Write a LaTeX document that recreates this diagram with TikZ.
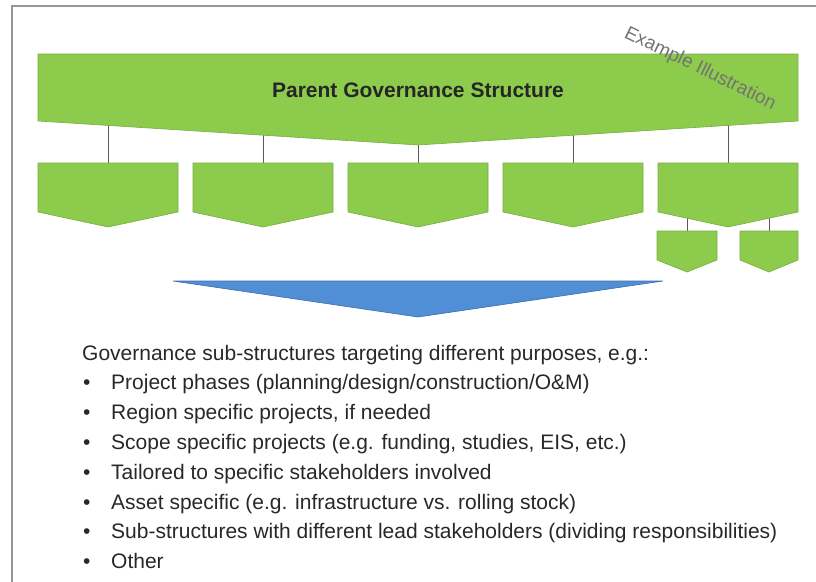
\documentclass[tikz,border=0pt]{standalone}
\usepackage{fontspec}
\setmainfont{Liberation Sans}
\usepackage{tikz}
\usetikzlibrary{calc}
\definecolor{cGov}{RGB}{141,203,76}
\definecolor{cGovEdge}{RGB}{120,172,66}
\definecolor{cFunnel}{RGB}{80,142,214}
\definecolor{cFunnelEdge}{RGB}{62,108,168}
\definecolor{cLink}{RGB}{90,90,90}
\definecolor{cFrame}{RGB}{150,150,150}
\definecolor{cStamp}{RGB}{115,115,115}
\definecolor{cText}{RGB}{40,40,40}

\begin{document}
\begin{tikzpicture}[x=1pt, y=-1pt,
    govshape/.style={fill=cGov, draw=cGovEdge, line width=0.6pt},
    govlink/.style={draw=cLink, line width=1pt},
    listtext/.style={anchor=base west, inner sep=0pt, text=cText, font=\fontsize{21}{24}\selectfont}]

  \useasboundingbox (0,0) rectangle (816,581);
  \clip (0,0) rectangle (816,581);

  % ---- outer frame (right and bottom edges fall off the page) ----
  \draw[cFrame, line width=1.5pt] (12,6) rectangle (830,595);

  % ---- anchor points of the boxes ----
  \coordinate (parent-c) at (418,95);
  \coordinate (c1-n) at (108,163);
  \coordinate (c2-n) at (263,163);
  \coordinate (c3-n) at (418,163);
  \coordinate (c4-n) at (573,163);
  \coordinate (c5-n) at (728,163);
  \coordinate (c5-c) at (728,195);
  \coordinate (s1-n) at (687,231);
  \coordinate (s2-n) at (769,231);

  % ---- connectors (drawn first, boxes cover their ends) ----
  \foreach \k in {1,...,5}{
    \draw[govlink] (c\k-n) -- (c\k-n |- parent-c);
  }
  \draw[govlink] (s1-n) -- (s1-n |- c5-c);
  \draw[govlink] (s2-n) -- (s2-n |- c5-c);

  % ---- parent block ----
  \filldraw[govshape] (38,54) -- (798,54) -- (798,121) -- (418,145) -- (38,121) -- cycle;
  \node[font=\fontsize{21}{24}\selectfont\bfseries, text=black!85] (parent) at (418,90)
    {Parent Governance Structure};

  % ---- first level sub-structures ----
  \filldraw[govshape] (38,163) -- (178,163) -- (178,212) -- (108,227) -- (38,212) -- cycle;
  \filldraw[govshape] (193,163) -- (333,163) -- (333,212) -- (263,227) -- (193,212) -- cycle;
  \filldraw[govshape] (348,163) -- (488,163) -- (488,212) -- (418,227) -- (348,212) -- cycle;
  \filldraw[govshape] (503,163) -- (643,163) -- (643,212) -- (573,227) -- (503,212) -- cycle;
  \filldraw[govshape] (658,163) -- (798,163) -- (798,212) -- (728,227) -- (658,212) -- cycle;

  % ---- second level under the last box ----
  \filldraw[govshape] (657,231) -- (717,231) -- (717,260) -- (687,272) -- (657,260) -- cycle;
  \filldraw[govshape] (740,231) -- (798,231) -- (798,260) -- (769,272) -- (740,260) -- cycle;

  % ---- funnel ----
  \filldraw[fill=cFunnel, draw=cFunnelEdge, line width=0.6pt]
    (173,281) -- (663,281) -- (418,317) -- cycle;

  % ---- stamp ----
  \node[text=cStamp, rotate=-26, font=\fontsize{19}{21}\selectfont] (stamp) at (700,69)
    {Example Illustration};

  % ---- list (baselines 7 below the line centres) ----
  \node[listtext] (intro) at (82,360) {Governance sub-structures targeting different purposes, e.g.:};
  \foreach \txt [count=\i] in {
      {Project phases (planning/design/construction/O\&M)},
      {Region specific projects, if needed},
      {Scope specific projects (e.g. funding, studies, EIS, etc.)},
      {Tailored to specific stakeholders involved},
      {Asset specific (e.g. infrastructure vs. rolling stock)},
      {Sub-structures with different lead stakeholders (dividing responsibilities)},
      {Other}}{
    \node[listtext] (dot\i) at (83,{360+\i*29.8}) {\textbullet};
    \node[listtext] (item\i) at (111,{360+\i*29.8}) {\txt};
  }

\end{tikzpicture}
\end{document}
